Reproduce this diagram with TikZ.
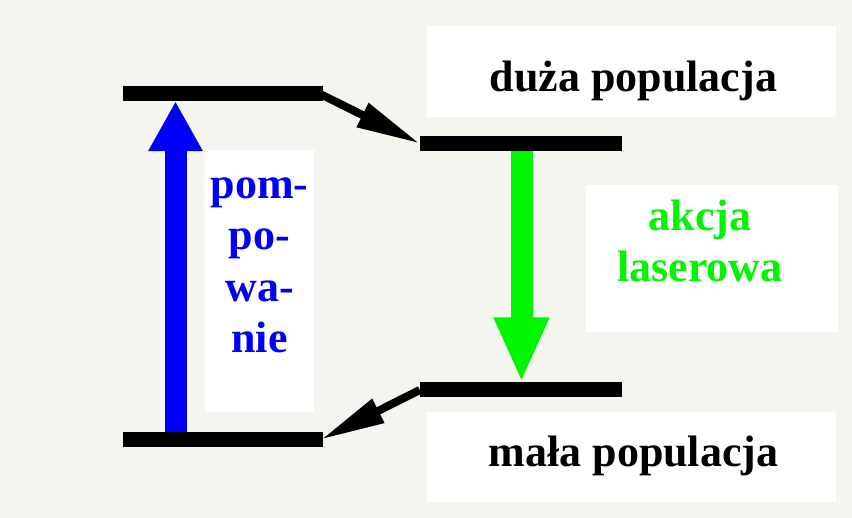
\documentclass[tikz,border=0pt]{standalone}
\usepackage{fontspec}
\setmainfont{Liberation Serif}
\usetikzlibrary{arrows.meta}
\definecolor{paper}{RGB}{245,245,240}
\definecolor{pumpblue}{RGB}{0,0,250}
\definecolor{lasergreen}{RGB}{0,245,0}
\begin{document}
\begin{tikzpicture}[x=1pt,y=-1pt,
  energybar/.style={fill=black, inner sep=0, minimum width=200pt, minimum height=15pt},
  panel/.style={fill=white, inner sep=0},
  txt/.style={font=\fontsize{44}{51.5}\selectfont\bfseries, align=center, inner sep=0, anchor=base},
  transfer/.style={line width=8pt, -{Triangle[length=64pt,width=25pt]}},
  bigarrow/.style={line width=22pt, -{Triangle[length=65pt,width=51pt]}}]

  % background
  \fill[paper] (0,0) rectangle (852,518);
  \useasboundingbox (0,0) rectangle (852,518);

  % white panels behind the captions
  \node[panel, minimum width=409pt, minimum height=91pt] (boxtop) at (631.5,71.5) {};
  \node[panel, minimum width=409pt, minimum height=90pt] (boxbot) at (631.5,457) {};
  \node[panel, minimum width=109pt, minimum height=262pt] (boxpump) at (259.5,281) {};
  \node[panel, minimum width=252pt, minimum height=147pt] (boxlaser) at (712,258.5) {};

  % energy levels
  \node[energybar] (topL) at (223,93.5) {};
  \node[energybar] (botL) at (223,439.5) {};
  \node[energybar, minimum width=202pt] (upR) at (521,143.5) {};
  \node[energybar, minimum width=202pt] (lowR) at (521,390) {};

  % horizontal positions of the two vertical arrows
  \coordinate (pumpx) at (175.5,0);
  \coordinate (laserx) at (521.5,0);

  % pumping and laser transition
  \draw[pumpblue, bigarrow, -{Triangle[length=50pt,width=51pt]}]
    (botL.north -| pumpx) -- (topL.south -| pumpx);
  \draw[lasergreen, bigarrow] (upR.south -| laserx) -- (lowR.north -| laserx);

  % non-radiative transfers
  \draw[transfer] ([xshift=-4pt]topL.east) -- (upR.west);
  \draw[transfer] (lowR.west) -- ([xshift=-2pt]botL.east);

  % captions (multi-line nodes are placed by the baseline of their last line)
  \node[txt] (tduza) at (633.5,92) {duża populacja};
  \node[txt] (tmala) at (633.5,467) {mała populacja};
  \node[txt, text=pumpblue] (tpump) at (259.5,353) {pom-\\po-\\wa-\\nie};
  \node[txt, text=lasergreen] (tlaser) at (700,282) {akcja\\laserowa};
\end{tikzpicture}
\end{document}
